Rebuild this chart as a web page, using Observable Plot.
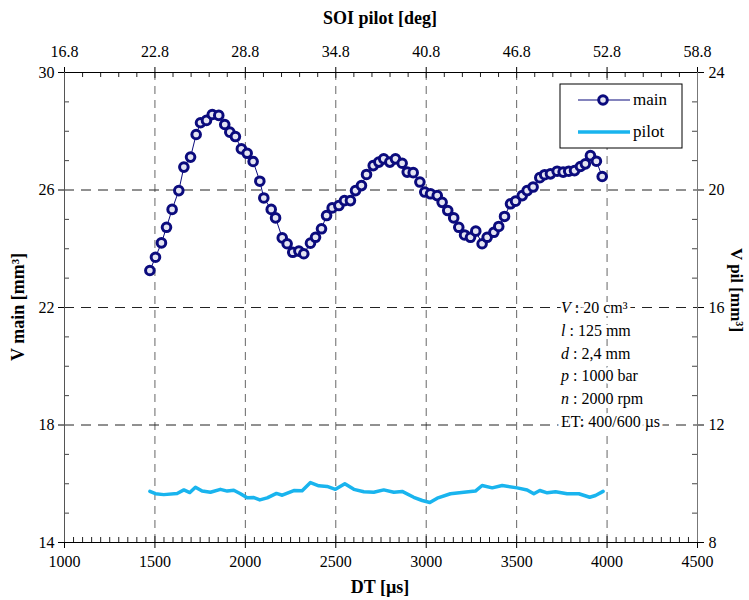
<!DOCTYPE html>
<html><head><meta charset="utf-8">
<script src="https://cdn.jsdelivr.net/npm/d3@7"></script>
<script src="https://cdn.jsdelivr.net/npm/@observablehq/plot@0.6"></script>
<style>body{margin:0;background:#fff}</style>
</head><body><div id="chart"></div>
<script>
// ---- data ----
const dtMain = [1472,1503,1536,1564,1595,1632,1660,1697,1728,1752,1785,1817,1853,1886,1914,1945,1978,2010,2043,2080,2102,2143,2167,2204,2231,2262,2296,2323,2360,2388,2421,2449,2480,2517,2548,2581,2609,2642,2670,2707,2738,2765,2799,2830,2867,2895,2928,2965,2992,3024,3061,3088,3119,3152,3180,3212,3245,3274,3309,3337,3374,3401,3433,3466,3494,3531,3558,3591,3628,3655,3687,3724,3757,3788,3820,3853,3880,3908,3941,3973];
const vMain = [23.26,23.71,24.20,24.73,25.34,25.98,26.78,27.12,27.89,28.29,28.37,28.57,28.54,28.23,27.97,27.82,27.40,27.25,26.97,26.30,25.73,25.34,25.05,24.37,24.17,23.88,23.92,23.83,24.19,24.39,24.68,25.13,25.39,25.47,25.64,25.64,25.98,26.15,26.53,26.83,26.95,27.06,26.95,27.06,26.91,26.61,26.59,26.27,25.93,25.87,25.81,25.58,25.30,25.05,24.73,24.47,24.39,24.60,24.17,24.39,24.56,24.76,25.10,25.53,25.62,25.81,25.98,26.10,26.42,26.52,26.55,26.64,26.61,26.64,26.66,26.80,26.89,27.17,26.98,26.46];
const dtPilot = [1472,1503,1549,1623,1660,1693,1724,1761,1807,1862,1900,1936,1973,2010,2047,2080,2121,2172,2204,2268,2314,2360,2406,2452,2498,2550,2600,2655,2710,2765,2821,2867,2931,2978,3020,3061,3134,3208,3272,3309,3365,3420,3503,3558,3595,3628,3669,3715,3779,3844,3904,3936,3978];
const vPilot = [9.74,9.66,9.63,9.67,9.79,9.70,9.88,9.75,9.71,9.81,9.75,9.78,9.66,9.52,9.53,9.45,9.52,9.67,9.61,9.77,9.76,10.04,9.93,9.91,9.81,10.0,9.81,9.73,9.71,9.79,9.71,9.74,9.54,9.43,9.36,9.51,9.66,9.71,9.75,9.94,9.86,9.94,9.86,9.79,9.66,9.77,9.69,9.73,9.66,9.66,9.54,9.60,9.74];
const xTicks = [1000,1500,2000,2500,3000,3500,4000,4500];
const soiTicks = ["16.8","22.8","28.8","34.8","40.8","46.8","52.8","58.8"];
const yTicks = [14,18,22,26,30];
const pilotTicks = [8,12,16,20,24];
const annotations = [["V"," : 20 cm³"],["l"," : 125 mm"],["d"," : 2,4 mm"],["p"," : 1000 bar"],["n"," : 2000 rpm"],["","ET: 400/600 µs"]];
const seriesNames = ["main","pilot"];

// ---- layout ----
const W=749,H=600,mL=64,mR=52,mT=72,mB=58;
const innerW=W-mL-mR, innerH=H-mT-mB;
const NAVY="#0b0b7d", CYAN="#19b4ee";
const toMain = p => yTicks[0] + (p - pilotTicks[0])*(yTicks[yTicks.length-1]-yTicks[0])/(pilotTicks[pilotTicks.length-1]-pilotTicks[0]);
const mainData = dtMain.map((x,i)=>({x, v:vMain[i]}));
const pilotData = dtPilot.map((x,i)=>({x, v:toMain(vPilot[i])}));
const x0=xTicks[0], x1=xTicks[xTicks.length-1], y0=yTicks[0], y1=yTicks[yTicks.length-1];
const xMinorBottom = d3.range(x0, x1+1, 50).filter(d=>!xTicks.includes(d));
const xMinorTop = d3.range(x0, x1+1, 100).filter(d=>!xTicks.includes(d));
const yMinor = d3.range(y0, y1+1, 1).filter(d=>!yTicks.includes(d));
const xGrid = xTicks.slice(1,-1), yGrid = yTicks.slice(1,-1);

const plot = Plot.plot({
  width:W, height:H, marginLeft:mL, marginRight:mR, marginTop:mT, marginBottom:mB,
  style:{fontFamily:"'Liberation Serif', serif", fontSize:"16px", background:"white", color:"black", overflow:"visible"},
  x:{domain:[x0,x1]}, y:{domain:[y0,y1]},
  marks:[
    Plot.gridX(xGrid,{stroke:"#666", strokeOpacity:1, strokeDasharray:"8,6"}),
    Plot.gridY(yGrid,{stroke:"#222", strokeOpacity:1, strokeDasharray:"10,7"}),
    Plot.tickX(xMinorBottom,{x:d=>d, insetTop:innerH-5, stroke:"#222"}),
    Plot.tickX(xMinorTop,{x:d=>d, insetBottom:innerH-5, stroke:"#222"}),
    Plot.tickY(yMinor,{y:d=>d, insetRight:innerW-5, stroke:"#444"}),
    Plot.tickY(yMinor,{y:d=>d, insetLeft:innerW-5, stroke:"#444"}),
    Plot.tickX(xTicks,{x:d=>d, insetTop:innerH-6, stroke:"#222"}),
    Plot.tickX(xTicks,{x:d=>d, insetBottom:innerH-6, stroke:"#222"}),
    Plot.axisX(xTicks,{anchor:"bottom", tickSize:6, tickPadding:7, fontSize:16, label:null, tickFormat:d=>String(d)}),
    Plot.axisX(xTicks,{anchor:"top", tickSize:6, tickPadding:10, fontSize:16, label:null, tickFormat:d=>soiTicks[xTicks.indexOf(d)]}),
    Plot.axisY(yTicks,{anchor:"left", tickSize:6, tickPadding:4, fontSize:16, label:null, tickFormat:d=>String(d)}),
    Plot.axisY(yTicks,{anchor:"right", tickSize:6, tickPadding:5, fontSize:16, label:null, tickFormat:d=>String(pilotTicks[yTicks.indexOf(d)])}),
    Plot.ruleY([y0],{stroke:"black"}),
    Plot.ruleY([y1],{stroke:"black"}),
    Plot.ruleX([x0],{stroke:"#555"}),
    Plot.ruleX([x1],{stroke:"#777"}),
    Plot.line(pilotData,{x:"x", y:"v", stroke:CYAN, strokeWidth:3.5}),
    Plot.line(mainData,{x:"x", y:"v", stroke:NAVY, strokeWidth:1}),
    Plot.dot(mainData,{x:"x", y:"v", r:4.3, stroke:NAVY, strokeWidth:3, fill:"#e4e4f2"})
  ]
});
document.getElementById("chart").appendChild(plot);

const svg = d3.select(plot);
const serif = "'Liberation Serif', serif";
// axis titles
svg.append("text").attr("x",380).attr("y",24).attr("text-anchor","middle").attr("font-family",serif).attr("font-size",18).attr("font-weight","bold").text("SOI pilot [deg]");
svg.append("text").attr("x",380).attr("y",593).attr("text-anchor","middle").attr("font-family",serif).attr("font-size",18).attr("font-weight","bold").text("DT [µs]");
svg.append("text").attr("transform","translate(24,307) rotate(-90)").attr("text-anchor","middle").attr("font-family",serif).attr("font-size",18).attr("font-weight","bold").text("V main [mm³]");
svg.append("text").attr("transform","translate(731,290) rotate(90)").attr("text-anchor","middle").attr("font-family",serif).attr("font-size",17).attr("font-weight","bold").text("V pil [mm³]");

// annotations
annotations.forEach((a,i)=>{
  const t = svg.append("text").attr("x",561).attr("y",313+i*22.8).attr("text-anchor","start").attr("font-family",serif).attr("font-size",16)
    .attr("stroke","white").attr("stroke-width",6).attr("paint-order","stroke").attr("fill","black");
  if (a[0]) t.append("tspan").attr("font-style","italic").text(a[0]);
  t.append("tspan").text(a[1]);
});

// legend
const lg = svg.append("g").attr("text-anchor","start");
lg.append("rect").attr("x",560).attr("y",84).attr("width",122).attr("height",64).attr("fill","white").attr("stroke","black").attr("stroke-width",1);
lg.append("line").attr("x1",578).attr("x2",630).attr("y1",100).attr("y2",100).attr("stroke",NAVY).attr("stroke-width",1.2);
lg.append("circle").attr("cx",603).attr("cy",100).attr("r",4.3).attr("stroke",NAVY).attr("stroke-width",3).attr("fill","#e4e4f2");
lg.append("text").attr("x",633).attr("y",105).attr("font-family",serif).attr("font-size",17).text(seriesNames[0]);
lg.append("line").attr("x1",578).attr("x2",630).attr("y1",132).attr("y2",132).attr("stroke",CYAN).attr("stroke-width",3.5);
lg.append("text").attr("x",633).attr("y",137).attr("font-family",serif).attr("font-size",17).text(seriesNames[1]);
</script>
</body></html>
